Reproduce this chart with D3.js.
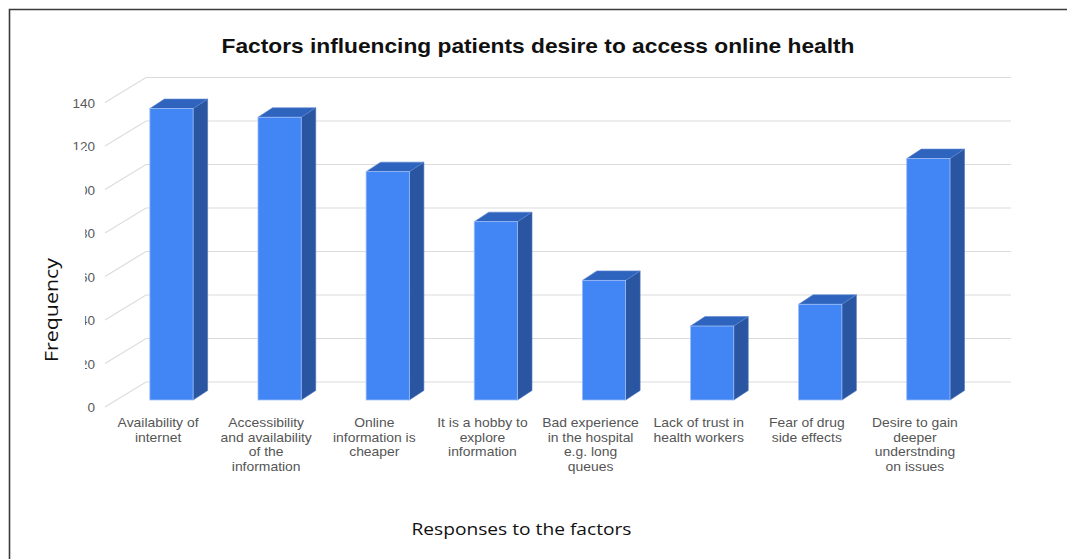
<!DOCTYPE html>
<html>
<head>
<meta charset="utf-8">
<script src="https://cdn.jsdelivr.net/npm/d3@7"></script>
<style>
  html, body { margin: 0; padding: 0; background: #fff; }
  svg { display: block; }
</style>
</head>
<body>
<svg id="chart" width="1067" height="559"></svg>
<script>
// ---- data ----
const categories = [
  "Availability of internet",
  "Accessibility and availability of the information",
  "Online information is cheaper",
  "It is a hobby to explore information",
  "Bad experience in the hospital e.g. long queues",
  "Lack of trust in health workers",
  "Fear of drug side effects",
  "Desire to gain deeper understnding on issues"
];
const categoryLines = [
  ["Availability of", "internet"],
  ["Accessibility", "and availability", "of the", "information"],
  ["Online", "information is", "cheaper"],
  ["It is a hobby to", "explore", "information"],
  ["Bad experience", "in the hospital", "e.g. long", "queues"],
  ["Lack of trust in", "health workers"],
  ["Fear of drug", "side effects"],
  ["Desire to gain", "deeper", "understnding", "on issues"]
];
const frequency = [134, 130, 105, 82, 55, 34, 44, 111];
const yTicks = [0, 20, 40, 60, 80, 100, 120, 140];
const titleText = "Factors influencing patients desire to access online health";
const yTitle = "Frequency";
const xTitle = "Responses to the factors";

// ---- layout ----
const svg = d3.select("#chart");
const W = 1067, H = 559;
const wall = { dx: 42, dy: -25 };      // depth of the whole plot box
const barOff = { dx: 11.8, dy: -7 };   // where bar front face sits
const barDepth = { dx: 14.5, dy: -9.5 };

const x = d3.scaleBand().domain(categories).range([104, 969]).padding(0);
const y = d3.scaleLinear().domain([0, 140]).range([407, 102.5]);

// frame border (top + left)
svg.append("path")
  .attr("d", `M9.5,${H} L9.5,9.5 L${W},9.5`)
  .attr("fill", "none").attr("stroke", "#3a3a3a").attr("stroke-width", 1.6);

// title
svg.append("text")
  .attr("x", 538).attr("y", 53)
  .attr("text-anchor", "middle")
  .attr("font-family", "'Liberation Sans Narrow', 'Liberation Sans', Arial, sans-serif")
  .attr("font-weight", "bold").attr("font-size", 21)
  .attr("textLength", 633).attr("lengthAdjust", "spacingAndGlyphs")
  .attr("fill", "#111")
  .text(titleText);

// gridlines (side wall diagonals + back wall horizontals)
const xLeft = x.range()[0], xRight = x.range()[1];
const grid = svg.append("g").attr("fill", "none").attr("stroke", "#dcdcdc").attr("stroke-width", 1.2);
yTicks.forEach(t => {
  const yf = y(t);
  grid.append("path")
    .attr("d", `M${xLeft + 1},${yf} L${xLeft + wall.dx},${yf + wall.dy} L${xRight + wall.dx},${yf + wall.dy}`);
});

// y tick labels (partially clipped as in the original)
const axisX = 95;
const defs = svg.append("defs");
const cp = defs.append("clipPath").attr("id", "tickclip");
cp.append("rect").attr("x", -200).attr("y", 0).attr("width", 400).attr("height", 150);
cp.append("rect").attr("x", 85 - axisX).attr("y", 150).attr("width", 200).attr("height", 300);

const yAxis = d3.axisLeft(y).tickValues(yTicks).tickSize(0).tickPadding(0);
const yg = svg.append("g")
  .attr("transform", `translate(${axisX},0)`)
  .attr("clip-path", "url(#tickclip)")
  .call(yAxis);
yg.select(".domain").remove();
yg.selectAll("text")
  .attr("font-family", "'Liberation Sans', Arial, sans-serif")
  .attr("font-size", 13.5)
  .attr("fill", "#5a5a5a")
  .attr("dy", "0.36em");

// bars
const bw = x.bandwidth();
const barW = bw * 0.4;
const bars = svg.append("g");
categories.forEach((c, i) => {
  const v = frequency[i];
  const xl = x(c) + bw * 0.315 + barOff.dx;
  const xr = xl + barW;
  const yt = y(v) + barOff.dy;
  const yb = y(0) + barOff.dy;
  const g = bars.append("g");
  // side
  g.append("path")
    .attr("d", `M${xr},${yt} L${xr + barDepth.dx},${yt + barDepth.dy} L${xr + barDepth.dx},${yb + barDepth.dy} L${xr},${yb} Z`)
    .attr("fill", "#2a55a0").attr("stroke", "#4a72b8").attr("stroke-width", 0.6);
  // top
  g.append("path")
    .attr("d", `M${xl},${yt} L${xl + barDepth.dx},${yt + barDepth.dy} L${xr + barDepth.dx},${yt + barDepth.dy} L${xr},${yt} Z`)
    .attr("fill", "#2f64be").attr("stroke", "#5d86d0").attr("stroke-width", 0.6);
  // front
  g.append("rect")
    .attr("x", xl).attr("y", yt)
    .attr("width", barW).attr("height", yb - yt)
    .attr("fill", "#4285f4").attr("stroke", "#9dbdf7").attr("stroke-width", 0.8);
});

// category labels
const labels = svg.append("g")
  .attr("font-family", "'Liberation Sans', Arial, sans-serif")
  .attr("font-size", 13)
  .attr("fill", "#555")
  .attr("text-anchor", "middle");
categories.forEach((c, i) => {
  const cx = x(c) + bw / 2;
  const t = labels.append("text")
    .attr("transform", `translate(${cx},427) scale(1.07,1)`);
  categoryLines[i].forEach((ln, k) => {
    t.append("tspan").attr("x", 0).attr("y", k * 14.7).text(ln);
  });
});

// axis titles
svg.append("text")
  .attr("transform", "translate(58,310) rotate(-90)")
  .attr("text-anchor", "middle")
  .attr("font-family", "'Open Sans', 'Liberation Sans', sans-serif")
  .attr("font-size", 19)
  .attr("textLength", 104).attr("lengthAdjust", "spacingAndGlyphs")
  .attr("fill", "#111")
  .text(yTitle);

svg.append("text")
  .attr("x", 521.5).attr("y", 535)
  .attr("text-anchor", "middle")
  .attr("font-family", "'Open Sans', 'Liberation Sans', sans-serif")
  .attr("font-size", 17)
  .attr("textLength", 220).attr("lengthAdjust", "spacingAndGlyphs")
  .attr("fill", "#111")
  .text(xTitle);
</script>
</body>
</html>
